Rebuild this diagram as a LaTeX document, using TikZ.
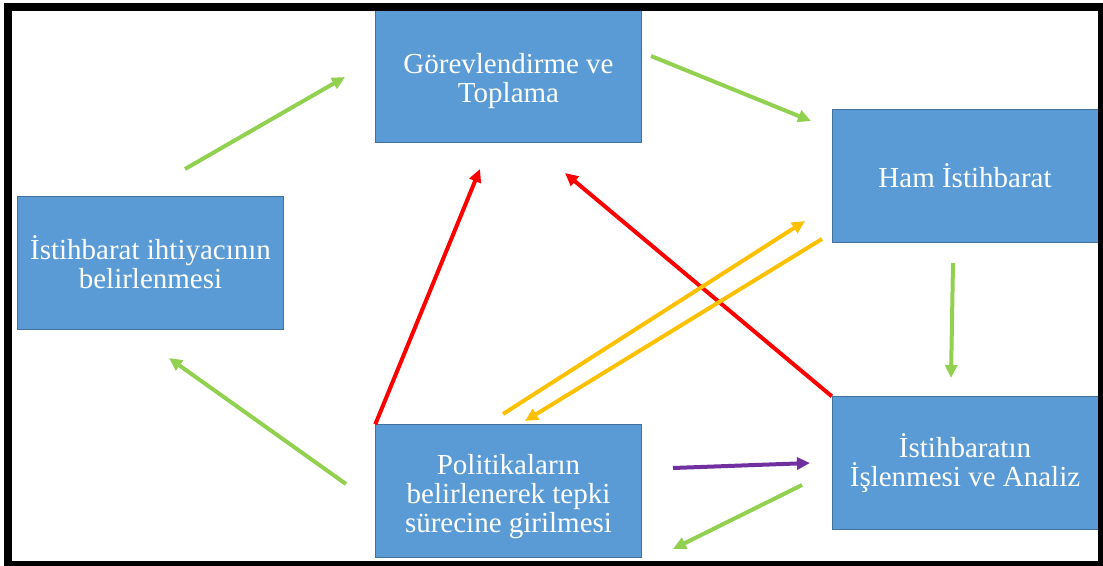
\documentclass[tikz,border=0pt]{standalone}
\usepackage{xcolor}
\usepackage{fontspec}
\setmainfont{Liberation Serif}
\usepackage{tikz}
\usetikzlibrary{shapes, arrows.meta, positioning, calc}
\definecolor{boxblue}{HTML}{5B9BD5}
\definecolor{boxline}{HTML}{41719C}
\definecolor{lgreen}{HTML}{92D050}
\definecolor{gold}{HTML}{FFC000}
\definecolor{purp}{HTML}{7030A0}

\begin{document}
\begin{tikzpicture}
  [
    x=1pt, y=-1pt,
    Box/.style={rectangle, draw=boxline, fill=boxblue, thin, minimum width=266, minimum height=133,
      inner sep=0pt, align=center, text=white, font=\fontsize{29}{29}\selectfont},
    Green/.style={draw=lgreen, line width=4pt},
    Red/.style={draw=red, line width=4pt},
    Gold/.style={draw=gold, line width=4pt},
    Purple/.style={draw=purp, line width=4pt},
    >={Triangle[length=13pt, width=12pt]}
  ]
  \clip (0, 0) rectangle (1103, 565);
  % Nodes
  \node[Box, text height=60pt] (gorev) at(508.5, 75.5) {Görevlendirme ve\\Toplama};
  \node[Box] (ham) at(965, 175.5) {Ham İstihbarat};
  \node[Box] (ihtiyac) at(150.5, 262.5) {İstihbarat ihtiyacının\\belirlenmesi};
  \node[Box] (isleme) at(965, 463) {İstihbaratın\\İşlenmesi ve Analiz};
  \node[Box, text height=89pt] (politika) at(508.5, 491) {Politikaların\\belirlenerek tepki\\sürecine girilmesi};
  % Arrow ends
  \coordinate (g1s) at(185, 169);  \coordinate (g1e) at(345, 77);
  \coordinate (g2s) at(651, 56);   \coordinate (g2e) at(811, 121);
  \coordinate (g3s) at(953, 263);  \coordinate (g3e) at(951, 378);
  \coordinate (g4s) at(802, 485);  \coordinate (g4e) at(673, 549);
  \coordinate (g5s) at(346, 484);  \coordinate (g5e) at(169, 358);
  \coordinate (p1s) at(673, 468);  \coordinate (p1e) at(810, 463);
  \coordinate (r1e) at(480, 169);
  \coordinate (r2e) at(565, 173);
  \coordinate (y1s) at(503, 414);  \coordinate (y1e) at(805, 221);
  \coordinate (y2s) at(822, 239);  \coordinate (y2e) at(525, 421);
  % Lines
  \path [->, Green] (g1s) -- (g1e);
  \path [->, Green] (g2s) -- (g2e);
  \path [->, Green] (g3s) -- (g3e);
  \path [->, Green] (g4s) -- (g4e);
  \path [->, Green] (g5s) -- (g5e);
  \path [->, Purple] (p1s) -- (p1e);
  \path [->, Red] (politika.north west) -- (r1e);
  \path [->, Red] (isleme.north west) -- (r2e);
  \path [->, Gold] (y1s) -- (y1e);
  \path [->, Gold] (y2s) -- (y2e);
  % Frame
  \draw [line width=8pt] (8, 7) rectangle (1102, 565);
\end{tikzpicture}
\end{document}
